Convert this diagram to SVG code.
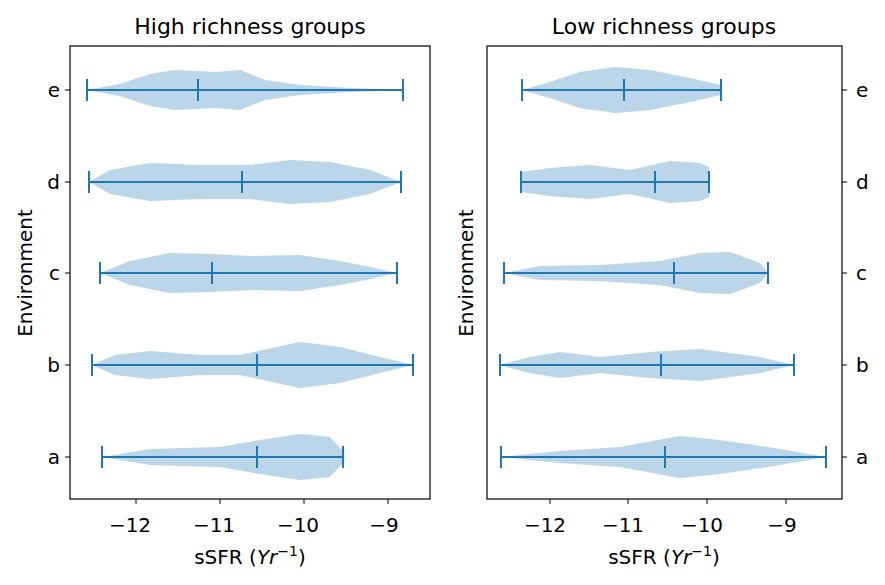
<svg xmlns="http://www.w3.org/2000/svg" width="885" height="585" viewBox="0 0 885 585">
<style>
text{font-family:"DejaVu Sans",sans-serif;font-size:20px;fill:#000}
.t{font-size:22px;text-anchor:middle}
.v{fill:#1f77b4;fill-opacity:0.3;stroke:#1f77b4;stroke-opacity:0.01;stroke-linejoin:round}
.l{stroke:#1f77b4;stroke-width:2;fill:none}
.ax{fill:none;stroke:#000;stroke-width:1.2}
.tk{stroke:#000;stroke-width:1}
</style>
<rect width="885" height="585" fill="#fff"/>
<g id="left-panel">
<path class="v" d="M87,90 L120,84 150,74 175,70 215,72 240,70 265,80 300,85 350,88 403,90 L350,92 300,95 265,100 240,110 215,108 175,110 150,106 120,96 Z"/>
<path class="v" d="M89,182 L110,170 150,163 200,165 250,165 290,160 330,162 370,170 401,182 L370,194 330,202 290,204 250,199 200,199 150,201 110,194 Z"/>
<path class="v" d="M100,273 L130,261 170,253 210,254 250,256 300,255 340,261 370,267 397,273 L370,279 340,285 300,291 250,290 210,292 170,293 130,285 Z"/>
<path class="v" d="M92,365 L115,355 150,351 200,355 240,355 300,342 340,347 380,357 413,365 L380,373 340,383 300,388 240,375 200,375 150,379 115,375 Z"/>
<path class="v" d="M102,457 L150,449 220,447 260,440 300,434 330,437 343,451 L343,463 330,477 300,480 260,474 220,467 150,465 Z"/>
<g class="l">
<path d="M87,90H403M87,79V101M403,79V101M198,79V101"/>
<path d="M89,182H401M89,171V193M401,171V193M242,171V193"/>
<path d="M100,273H397M100,262V284M397,262V284M212,262V284"/>
<path d="M92,365H413M92,354V376M413,354V376M257,354V376"/>
<path d="M102,457H343M102,446V468M343,446V468M257,446V468"/>
</g>
<rect class="ax" x="70" y="46" width="360" height="453"/>
<path class="tk" d="M136,499v5M220,499v5M304,499v5M388,499v5M70,90h-5M70,182h-5M70,273h-5M70,365h-5M70,457h-5"/>
<g text-anchor="middle"><text x="130" y="532">−12</text><text x="214" y="532">−11</text><text x="298" y="532">−10</text><text x="384" y="532">−9</text></g>
<g text-anchor="end"><text x="60" y="97">e</text><text x="60" y="189">d</text><text x="60" y="280">c</text><text x="60" y="372">b</text><text x="60" y="464">a</text></g>
<text class="t" x="250" y="34">High richness groups</text>
<text x="250" y="564" text-anchor="middle">sSFR (<tspan font-style="italic">Yr</tspan><tspan font-size="14" dy="-8">−1</tspan><tspan dy="8">)</tspan></text>
<text transform="translate(32,273) rotate(-90)" text-anchor="middle">Environment</text>
</g>
<g id="right-panel">
<path class="v" d="M522,90 L550,82 580,72 615,67 650,70 690,78 721,85 L721,95 690,102 650,110 615,113 580,108 550,98 Z"/>
<path class="v" d="M521,172 L550,168 590,165 630,170 670,161 700,163 709,167 L709,197 700,201 670,203 630,194 590,199 550,196 521,192 Z"/>
<path class="v" d="M504,273 L540,266 600,265 660,261 700,253 730,252 760,263 768,273 L760,283 730,294 700,293 660,285 600,281 540,280 Z"/>
<path class="v" d="M500,365 L530,357 560,352 600,357 650,352 700,349 760,357 794,365 L760,373 700,381 650,378 600,373 560,378 530,373 Z"/>
<path class="v" d="M501,457 L560,451 620,447 680,436 720,440 780,449 826,457 L780,465 720,474 680,478 620,467 560,463 Z"/>
<g class="l">
<path d="M522,90H721M522,79V101M721,79V101M624,79V101"/>
<path d="M521,182H709M521,171V193M709,171V193M655,171V193"/>
<path d="M504,273H768M504,262V284M768,262V284M674,262V284"/>
<path d="M500,365H794M500,354V376M794,354V376M661,354V376"/>
<path d="M501,457H826M501,446V468M826,446V468M665,446V468"/>
</g>
<rect class="ax" x="487" y="46" width="355" height="453"/>
<path class="tk" d="M550,499v5M628,499v5M707,499v5M786,499v5M842,90h5M842,182h5M842,273h5M842,365h5M842,457h5"/>
<g text-anchor="middle"><text x="545" y="532">−12</text><text x="623" y="532">−11</text><text x="702" y="532">−10</text><text x="782" y="532">−9</text></g>
<g><text x="856" y="97">e</text><text x="856" y="189">d</text><text x="856" y="280">c</text><text x="856" y="372">b</text><text x="856" y="464">a</text></g>
<text class="t" x="664" y="34">Low richness groups</text>
<text x="664" y="564" text-anchor="middle">sSFR (<tspan font-style="italic">Yr</tspan><tspan font-size="14" dy="-8">−1</tspan><tspan dy="8">)</tspan></text>
<text transform="translate(473,273) rotate(-90)" text-anchor="middle">Environment</text>
</g>
</svg>
